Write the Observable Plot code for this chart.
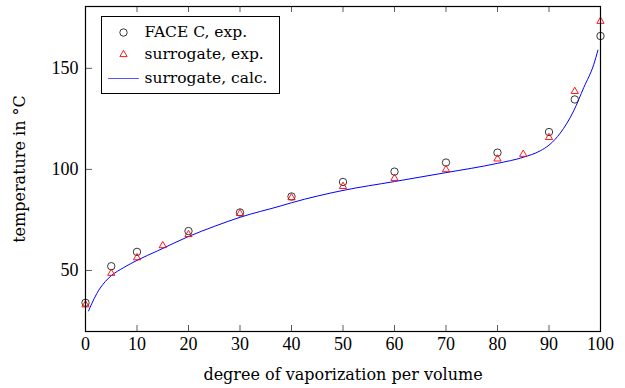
<!DOCTYPE html>
<html>
<head>
<meta charset="utf-8">
<script src="https://cdn.jsdelivr.net/npm/d3@7"></script>
<script src="https://cdn.jsdelivr.net/npm/@observablehq/plot@0.6"></script>
<style>
  html, body { margin: 0; padding: 0; background: #fff; }
  #chart svg { display: block; }
</style>
</head>
<body>
<div id="chart"></div>
<script>
// Experimental data: FACE C (circles)
const faceX = [0, 5, 10, 20, 30, 40, 50, 60, 70, 80, 90, 95, 100];
const faceY = [34, 52.1, 59.2, 69.5, 78.7, 86.6, 93.8, 98.9, 103.4, 108.3, 118.5, 134.6, 166];

// Experimental data: surrogate (triangles)
const surrX = [0, 5, 10, 15, 20, 30, 40, 50, 60, 70, 80, 85, 90, 95, 100];
const surrY = [33, 48.6, 56.3, 62.3, 67.8, 78.2, 86, 91.6, 95.6, 99.9, 105.2, 107.5, 115.8, 138.6, 173.3];

// Calculated curve: surrogate
const calcX = [0.6, 1.2, 2.2, 3.8, 5.1, 7.4, 10, 14, 20, 25, 30, 38, 40, 50, 60, 70, 80, 85, 88.3, 90, 92.2, 94.8, 96.75, 98.7, 99.5];
const calcY = [30, 33.5, 38.6, 44.4, 47.6, 51.4, 55, 59.7, 66.8, 71.8, 76.3, 82, 83.5, 89.6, 94, 98.4, 103, 106, 109.2, 112, 118, 129, 140.5, 152, 159];

const xTicks = [0, 10, 20, 30, 40, 50, 60, 70, 80, 90, 100];
const yTicks = [50, 100, 150];

const legendLabels = ["FACE C, exp.", "surrogate, exp.", "surrogate, calc."];

const face = faceX.map((x, i) => ({x, y: faceY[i]}));
const surr = surrX.map((x, i) => ({x, y: surrY[i]}));
const calc = calcX.map((x, i) => ({x, y: calcY[i]}));

const W = 625, H = 388;
const mL = 85, mR = 25, mT = 6, mB = 57;
const pw = W - mL - mR, ph = H - mT - mB;
const numFont = "'Liberation Serif', serif";
const txtFont = "'DejaVu Serif', serif";
const fsNum = 18;
const fsTxt = 16;
const fsLeg = 15.5;

const lineShape = {
  draw(context, l) { context.moveTo(0, 0); context.lineTo(0, -l); }
};

const legendRows = [26, 48, 72];

const chart = Plot.plot({
  width: W,
  height: H,
  marginLeft: mL,
  marginRight: mR,
  marginTop: mT,
  marginBottom: mB,
  style: {fontFamily: numFont, fontSize: fsNum + "px", color: "#000", background: "#fff"},
  x: {domain: [0, 100]},
  y: {domain: [19.8, 180.6]},
  marks: [
    Plot.axisX({ticks: xTicks, tickSize: 0, tickPadding: 6, fontSize: fsNum, label: null}),
    Plot.axisY({ticks: yTicks, tickSize: 0, tickPadding: 7, fontSize: fsNum, label: null}),
    Plot.text(["degree of vaporization per volume"], {frameAnchor: "bottom", dy: 48, lineAnchor: "bottom", text: d => d, fontFamily: txtFont, fontSize: fsTxt, fill: "#000"}),
    Plot.text(["temperature in °C"], {frameAnchor: "left", dx: -66, rotate: -90, textAnchor: "middle", lineAnchor: "middle", text: d => d, fontFamily: txtFont, fontSize: fsTxt, fill: "#000"}),
    // inward tick marks (bottom, top, left)
    Plot.ruleX(xTicks, {x: d => d, insetTop: ph - 6, stroke: "#333", strokeWidth: 0.8}),
    Plot.ruleX(xTicks, {x: d => d, insetBottom: ph - 6, stroke: "#333", strokeWidth: 0.8}),
    Plot.ruleY(yTicks, {y: d => d, insetRight: pw - 7, stroke: "#333", strokeWidth: 0.8}),
    Plot.line(calc, {x: "x", y: "y", stroke: "blue", strokeWidth: 1, curve: "monotone-x"}),
    Plot.dot(face, {x: "x", y: "y", symbol: "circle", r: 3.7, stroke: "#222", strokeWidth: 0.9, fill: "none"}),
    Plot.dot(surr, {x: "x", y: "y", symbol: "triangle", r: 2.7, stroke: "red", strokeWidth: 0.9, fill: "none"}),
    Plot.frame({stroke: "#000", strokeWidth: 1.2}),
    // legend
    Plot.frame({insetLeft: 16, insetTop: 10, insetRight: 321, insetBottom: 238, stroke: "#000", strokeWidth: 1, fill: "#fff"}),
    Plot.dot([0], {frameAnchor: "top-left", dx: 38, dy: legendRows[0], symbol: "circle", r: 3.7, stroke: "#222", strokeWidth: 0.9, fill: "none"}),
    Plot.dot([0], {frameAnchor: "top-left", dx: 38, dy: legendRows[1], symbol: "triangle", r: 2.7, stroke: "red", strokeWidth: 0.9, fill: "none"}),
    Plot.vector([0], {frameAnchor: "top-left", dx: 23, dy: legendRows[2], length: 30, rotate: 90, anchor: "start", shape: lineShape, stroke: "#5555ff", strokeWidth: 1}),
    ...legendLabels.map((lab, i) =>
      Plot.text([lab], {frameAnchor: "top-left", dx: 59, dy: legendRows[i], text: d => d, textAnchor: "start", lineAnchor: "middle", fontFamily: txtFont, fontSize: fsLeg, fill: "#000"}))
  ]
});

document.getElementById("chart").appendChild(chart);
</script>
</body>
</html>
